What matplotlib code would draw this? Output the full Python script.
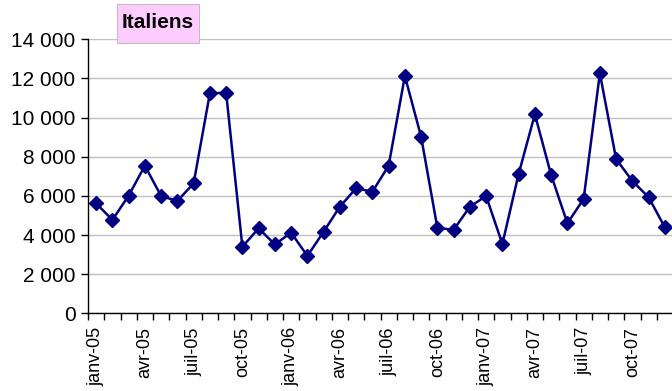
import numpy as np
import matplotlib
matplotlib.use("Agg")
from matplotlib import pyplot as plt
from matplotlib.patches import Rectangle

plt.rcParams["font.family"] = ["Liberation Sans", "DejaVu Sans"]

# monthly values, janv-05 .. déc-07
months = ["janv", "févr", "mars", "avr", "mai", "juin",
          "juil", "août", "sept", "oct", "nov", "déc"]
years = ["05", "06", "07"]
labels = [m + "-" + y for y in years for m in months]
values = [5620, 4770, 6010, 7540, 5990, 5740, 6640, 11240, 11270, 3400, 4340, 3520,
          4120, 2930, 4170, 5450, 6390, 6210, 7540, 12125, 9020, 4370, 4260, 5450,
          5990, 3540, 7120, 10170, 7070, 4600, 5840, 12260, 7880, 6760, 5930, 4390]
yticks = [0, 2000, 4000, 6000, 8000, 10000, 12000, 14000]
ytick_labels = ["0", "2 000", "4 000", "6 000", "8 000", "10 000", "12 000", "14 000"]

W, H = 672, 391
fig = plt.figure(figsize=(W / 100, H / 100), dpi=100)
ax = fig.add_axes([88 / W, 77.7 / H, 585 / W, 274 / H])

x = np.arange(len(values))
ax.plot(x, values, color="#000080", linewidth=1.8, marker="D", markersize=7.5,
        markerfacecolor="#000080", markeredgecolor="#000080", zorder=3)

ax.set_xlim(-0.5, len(values) - 0.5)
ax.set_ylim(0, 14000)

ax.set_yticks(yticks)
ax.set_yticklabels(ytick_labels, fontsize=15)
ax.yaxis.grid(True, color="#c0c0c0", linewidth=1.0)
ax.set_axisbelow(True)

# ticks between categories, labels every 3 months
ax.set_xticks(np.arange(len(values) + 1) - 0.5)
ax.set_xticklabels([])
ax.set_xticks(x[::3], minor=True)
ax.set_xticklabels(labels[::3], minor=True, rotation=90, fontsize=13)
ax.tick_params(axis="x", which="minor", length=0, pad=10)
ax.tick_params(axis="x", which="major", length=5, width=1, direction="out")
ax.tick_params(axis="y", length=5, width=1, direction="out", pad=4)

for s in ["top", "right"]:
    ax.spines[s].set_visible(False)
for s in ["left", "bottom"]:
    ax.spines[s].set_color("black")
    ax.spines[s].set_linewidth(1.0)

# title box
fig.patches.append(Rectangle((117 / W, 1 - 43 / H), 82 / W, 39 / H,
                             transform=fig.transFigure, facecolor="#ffccff",
                             edgecolor="#c0c0c0", linewidth=0.8, zorder=5))
fig.text(158 / W, 1 - 23 / H, "Italiens", fontsize=15, fontweight="bold",
         ha="center", va="center", zorder=6)

fig.savefig("out.png", dpi=100)
